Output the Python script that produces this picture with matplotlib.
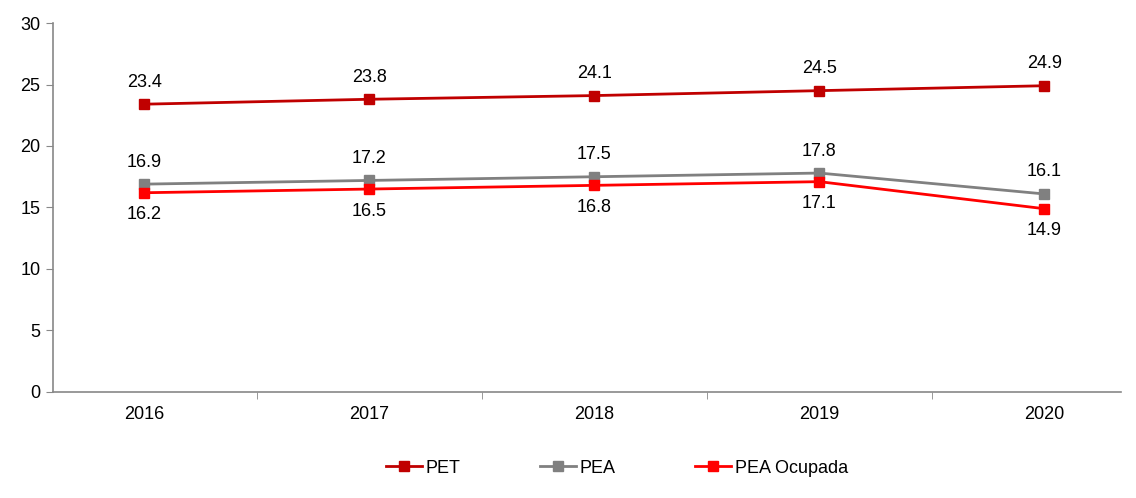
import matplotlib.pyplot as plt

plt.rcParams['font.family'] = ['Liberation Sans', 'DejaVu Sans']

# datos
years = ['2016', '2017', '2018', '2019', '2020']
pet = [23.4, 23.8, 24.1, 24.5, 24.9]
pea = [16.9, 17.2, 17.5, 17.8, 16.1]
pea_ocupada = [16.2, 16.5, 16.8, 17.1, 14.9]

fig = plt.figure(figsize=(11.36, 4.98), dpi=100)
ax = fig.add_axes([0.0467, 0.2129, 0.94, 0.7409])

x = list(range(len(years)))
series = [
    (pet, 'PET', '#C00000', 1),
    (pea, 'PEA', '#808080', 1),
    (pea_ocupada, 'PEA Ocupada', '#FF0000', -1),
]
for vals, name, col, pos in series:
    ax.plot(x, vals, color=col, lw=2, marker='s', ms=7, label=name)
    for xi, v in zip(x, vals):
        ax.annotate(f"{v:.1f}", (xi, v), xytext=(0, 22 * pos),
                    textcoords='offset pixels',
                    ha='center', va='center', fontsize=13)

ax.set_ylim(0, 30)
ax.set_yticks(range(0, 31, 5))
ax.set_xlim(-0.406, 4.34)
ax.set_xticks(x)
ax.set_xticklabels(years)
ax.set_xticks([0.5, 1.5, 2.5, 3.5], minor=True)
ax.tick_params(axis='x', which='major', length=0, pad=10, labelsize=13)
ax.tick_params(axis='x', which='minor', length=5, color='#888888')
ax.tick_params(axis='y', length=5, color='#888888', labelsize=13, pad=4)

for s in ['top', 'right']:
    ax.spines[s].set_visible(False)
for s in ['left', 'bottom']:
    ax.spines[s].set_color('#888888')
    ax.spines[s].set_linewidth(1.2)

fig.legend(loc='lower center', bbox_to_anchor=(0.543, 0.01), ncol=3,
           frameon=False, fontsize=13, handlelength=2.0, handletextpad=0.2,
           columnspacing=4.4)

plt.savefig('out.png', dpi=100)
